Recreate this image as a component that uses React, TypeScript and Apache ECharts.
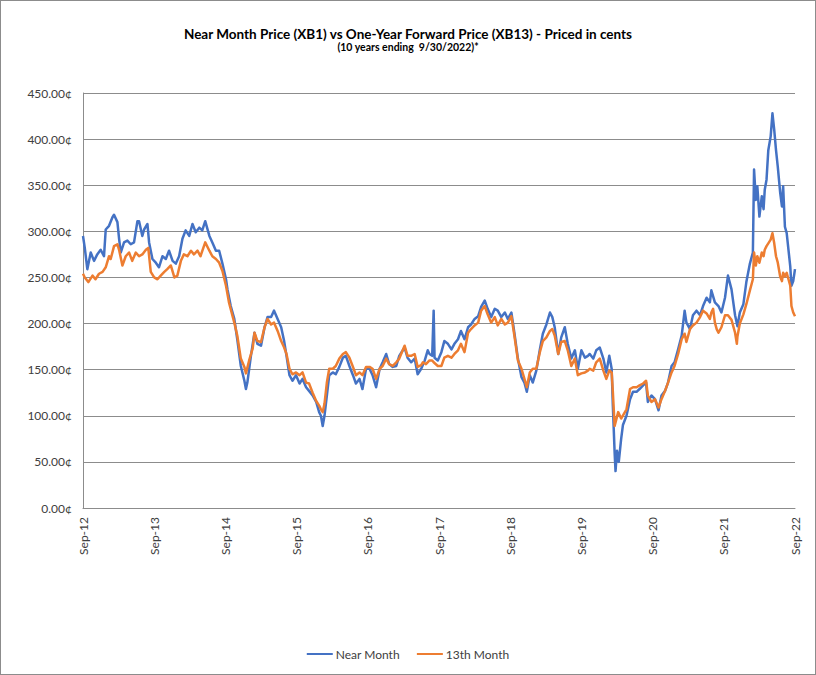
import React, { useEffect, useRef } from "react";
import * as echarts from "echarts";

// x = months since Sep-2012, y = price in cents
const nearMonth: [number, number][] = [
  [0, 295], [0.3, 282], [0.73, 259], [1.3, 277], [1.86, 268], [2.4, 275], [2.98, 280], [3.54, 273],
  [3.83, 302], [4.39, 306], [4.95, 315], [5.23, 318], [5.8, 310], [6.08, 292], [6.36, 277], [6.92, 288],
  [7.48, 290], [8.05, 286], [8.6, 288], [9.17, 311], [9.45, 311], [10.0, 295], [10.3, 302], [10.86, 308],
  [11.14, 288], [11.7, 270], [12.27, 266], [12.8, 261], [13.4, 273], [13.96, 270], [14.5, 279], [15.1, 268],
  [15.65, 265], [16.2, 273], [16.76, 292], [17.3, 301], [17.9, 295], [18.45, 308], [19.0, 299], [19.6, 304],
  [20.1, 301], [20.6, 311], [21.3, 295], [21.8, 288], [22.4, 279], [22.95, 279], [23.5, 265], [24.1, 248],
  [24.35, 237], [24.9, 219], [25.5, 205], [26.0, 183], [26.6, 154], [27.2, 138], [27.46, 129], [27.7, 136],
  [28.3, 165], [28.9, 190], [29.4, 178], [30.0, 176], [30.6, 196], [31.1, 207], [31.7, 207], [32.2, 214],
  [32.8, 205], [33.4, 196], [33.9, 181], [34.3, 165], [34.8, 144], [35.3, 138], [35.9, 144], [36.5, 135],
  [37.0, 140], [37.6, 131], [38.1, 127], [38.7, 122], [39.3, 115], [39.8, 104], [40.1, 100], [40.4, 89],
  [40.7, 100], [41.1, 122], [41.5, 144], [42.1, 147], [42.6, 145], [43.2, 153], [43.8, 163], [44.3, 165],
  [44.9, 154], [45.5, 144], [46.0, 135], [46.6, 140], [47.1, 129], [47.7, 151], [48.3, 151], [48.8, 144],
  [49.4, 131], [50.0, 151], [50.5, 158], [51.1, 167], [51.6, 156], [52.2, 153], [52.8, 154], [53.3, 165],
  [54.2, 174], [54.7, 163], [55.3, 158], [55.9, 162], [56.4, 145], [57.0, 151], [57.6, 160], [58.1, 171],
  [58.4, 167], [58.85, 165], [59.1, 214], [59.25, 163], [59.8, 160], [60.4, 169], [60.9, 181], [61.5, 178],
  [62.1, 172], [62.6, 178], [63.2, 183], [63.7, 192], [64.3, 183], [64.9, 196], [65.4, 199], [66.0, 205],
  [66.6, 208], [67.1, 218], [67.7, 225], [68.2, 216], [68.8, 207], [69.4, 216], [69.9, 214], [70.5, 207],
  [71.1, 212], [71.6, 205], [72.2, 212], [72.7, 190], [73.3, 162], [73.9, 142], [74.4, 136], [74.8, 126],
  [75.3, 144], [75.8, 136], [76.4, 149], [77.0, 172], [77.5, 189], [78.1, 199], [78.7, 212], [79.1, 207],
  [79.5, 196], [80.1, 167], [80.6, 185], [81.2, 196], [81.7, 178], [82.3, 162], [82.9, 171], [83.4, 151],
  [84.0, 171], [84.6, 163], [85.1, 165], [85.4, 167], [86.0, 162], [86.5, 171], [87.1, 174], [87.7, 162],
  [88.2, 147], [88.7, 165], [89.1, 151], [89.3, 111], [89.6, 60], [89.75, 40], [90.0, 62], [90.3, 50],
  [90.7, 75], [91.0, 90], [91.6, 100], [92.2, 118], [92.7, 126], [93.3, 126], [93.8, 129], [94.4, 133],
  [94.9, 136], [95.2, 115], [95.8, 122], [96.4, 118], [97.0, 106], [97.5, 122], [98.1, 127], [98.6, 136],
  [99.2, 154], [99.7, 158], [100.3, 172], [100.9, 187], [101.4, 214], [101.7, 201], [102.3, 194], [102.8, 209],
  [103.4, 214], [104.0, 209], [104.5, 219], [105.1, 228], [105.65, 223], [105.9, 236], [106.5, 223], [107.1, 219],
  [107.6, 212], [108.2, 228], [108.7, 252], [109.3, 237], [109.9, 209], [110.3, 197], [110.7, 212], [111.3, 221],
  [111.8, 245], [112.4, 265], [112.9, 277], [113.1, 367], [113.4, 334], [113.65, 349], [114.0, 316], [114.4, 338],
  [114.7, 324], [114.9, 345], [115.2, 356], [115.5, 388], [115.9, 403], [116.2, 428], [116.5, 410], [116.8, 388],
  [117.1, 370], [117.5, 342], [117.8, 327], [118.0, 349], [118.3, 305], [118.6, 298], [118.9, 280], [119.2, 262],
  [119.4, 241], [119.7, 246], [120, 259],
];

const thirteenthMonth: [number, number][] = [
  [0, 254], [0.3, 250], [0.9, 245], [1.6, 252], [2.1, 248], [2.7, 254], [3.3, 256], [3.83, 261],
  [4.39, 273], [4.67, 270], [5.23, 284], [5.8, 286], [6.08, 280], [6.64, 263], [7.2, 273], [7.76, 277],
  [8.3, 268], [8.9, 277], [9.45, 273], [10.0, 275], [10.6, 280], [11.0, 282], [11.42, 256], [12.0, 250],
  [12.55, 248], [13.1, 252], [13.7, 256], [14.2, 259], [14.8, 263], [15.4, 250], [15.9, 252], [16.5, 268],
  [17.0, 275], [17.6, 273], [18.2, 279], [18.7, 275], [19.3, 279], [19.8, 273], [20.6, 288], [21.3, 279],
  [21.8, 273], [22.4, 270], [22.95, 266], [23.5, 257], [24.1, 241], [24.6, 223], [25.5, 201], [26.0, 187],
  [26.6, 162], [27.2, 153], [27.46, 146], [28.0, 160], [28.6, 173], [28.9, 190], [29.4, 181], [30.0, 180],
  [30.6, 196], [31.1, 205], [31.7, 199], [32.2, 201], [32.8, 192], [33.4, 181], [33.9, 174], [34.3, 167],
  [34.8, 151], [35.3, 145], [35.9, 147], [36.5, 144], [37.0, 147], [37.6, 136], [38.1, 135], [38.7, 125],
  [39.3, 116], [39.8, 111], [40.1, 107], [40.4, 104], [40.7, 113], [41.1, 136], [41.5, 151], [42.1, 151],
  [42.6, 154], [43.2, 162], [43.8, 167], [44.3, 169], [44.9, 163], [45.5, 153], [46.0, 144], [46.6, 147],
  [47.1, 144], [47.7, 153], [48.3, 153], [48.8, 151], [49.4, 140], [50.0, 151], [50.5, 154], [51.1, 162],
  [51.6, 156], [52.2, 154], [52.8, 158], [53.3, 162], [54.2, 176], [54.7, 165], [55.3, 165], [55.9, 167],
  [56.4, 153], [57.0, 155], [57.3, 158], [57.8, 156], [58.4, 160], [58.85, 160], [59.1, 158], [59.8, 154],
  [60.4, 154], [60.9, 163], [61.5, 165], [62.1, 163], [62.6, 167], [63.2, 171], [63.7, 178], [64.3, 169],
  [64.9, 190], [65.4, 194], [66.0, 198], [66.6, 201], [67.1, 214], [67.7, 219], [68.2, 210], [68.8, 201],
  [69.4, 207], [69.9, 198], [70.5, 205], [71.1, 199], [71.6, 201], [72.2, 208], [72.7, 187], [73.3, 160],
  [73.9, 151], [74.4, 140], [74.8, 131], [75.3, 147], [75.8, 151], [76.4, 151], [77.0, 169], [77.5, 181],
  [78.1, 185], [78.7, 192], [79.1, 194], [79.5, 187], [80.1, 167], [80.6, 180], [81.2, 181], [81.7, 171],
  [82.3, 154], [82.9, 162], [83.4, 144], [84.0, 146], [84.6, 147], [85.1, 149], [85.4, 151], [86.0, 149],
  [86.5, 158], [87.1, 162], [87.7, 149], [88.2, 140], [88.7, 149], [89.1, 147], [89.3, 126], [89.6, 89],
  [90.2, 104], [90.7, 97], [91.6, 107], [92.2, 129], [92.7, 131], [93.3, 131], [93.8, 133], [94.4, 135],
  [94.9, 138], [95.2, 122], [95.8, 115], [96.4, 118], [97.0, 109], [97.5, 118], [98.1, 127], [98.6, 136],
  [99.2, 147], [99.7, 154], [100.3, 167], [100.9, 183], [101.4, 189], [101.7, 180], [102.3, 194], [102.8, 198],
  [103.4, 201], [104.0, 207], [104.5, 214], [105.1, 211], [105.65, 205], [105.9, 212], [106.2, 216], [106.5, 201],
  [106.8, 194], [107.1, 190], [107.6, 196], [108.2, 209], [108.7, 209], [109.3, 204], [109.9, 190], [110.2, 178],
  [110.3, 186], [110.7, 200], [111.3, 210], [111.8, 221], [112.4, 236], [112.9, 248], [113.1, 277], [113.4, 263],
  [113.65, 273], [114.0, 266], [114.4, 277], [114.7, 273], [114.9, 280], [115.2, 284], [115.5, 287], [115.9, 291],
  [116.2, 298], [116.5, 287], [116.8, 273], [117.1, 266], [117.5, 251], [117.8, 246], [118.0, 255], [118.3, 251],
  [118.6, 255], [118.9, 248], [119.2, 241], [119.4, 219], [119.7, 212], [120, 208],
];

const seriesNames = ["Near Month", "13th Month"];
const seriesColors = ["#4472C4", "#ED7D31"];
const titleText = "Near Month Price (XB1) vs One-Year Forward Price (XB13) - Priced in cents";
const subtitleText = "(10 years ending  9/30/2022)*";
const startYear = 12;

const FONT = "Lato, 'Open Sans', sans-serif";

export default function App() {
  const ref = useRef<HTMLDivElement>(null);
  useEffect(() => {
    if (!ref.current) return;
    const chart = echarts.init(ref.current, null, { renderer: "svg" });
    chart.setOption({
      animation: false,
      backgroundColor: "#ffffff",
      title: {
        text: titleText,
        subtext: subtitleText,
        left: "center",
        top: 21,
        itemGap: 0,
        textStyle: { fontFamily: FONT, fontSize: 13.5, fontWeight: "bold", color: "#000" },
        subtextStyle: { fontFamily: FONT, fontSize: 10.5, fontWeight: "bold", color: "#000" },
      },
      legend: {
        bottom: 9,
        left: "center",
        icon: "rect",
        itemWidth: 26,
        itemHeight: 2,
        itemGap: 17,
        textStyle: { fontFamily: FONT, fontSize: 12, color: "#404040", padding: [0, 0, 0, -2] },
        data: seriesNames,
      },
      grid: { left: 82, right: 20, top: 92, bottom: 166, containLabel: false },
      xAxis: {
        type: "value",
        min: 0,
        max: 120,
        interval: 12,
        axisLine: { show: true, lineStyle: { color: "#8c8c8c", width: 1 } },
        axisTick: { show: false },
        splitLine: { show: false },
        axisLabel: {
          rotate: 90,
          margin: 9,
          fontFamily: FONT,
          fontSize: 12,
          color: "#404040",
          formatter: (v: number) => `Sep-${startYear + Math.round(v / 12)}`,
        },
      },
      yAxis: {
        type: "value",
        min: 0,
        max: 450,
        interval: 50,
        axisLine: { show: true, lineStyle: { color: "#8c8c8c", width: 1 } },
        axisTick: { show: false },
        splitLine: { show: true, lineStyle: { color: "#8c8c8c", width: 1 } },
        axisLabel: {
          margin: 11,
          fontFamily: FONT,
          fontSize: 12,
          color: "#404040",
          formatter: (v: number) => `${v.toFixed(2)}¢`,
        },
      },
      series: [
        {
          name: seriesNames[0],
          type: "line",
          data: nearMonth,
          showSymbol: false,
          symbol: "none",
          lineStyle: { color: seriesColors[0], width: 2.5, join: "round" },
          itemStyle: { color: seriesColors[0] },
          z: 2,
        },
        {
          name: seriesNames[1],
          type: "line",
          data: thirteenthMonth,
          showSymbol: false,
          symbol: "none",
          lineStyle: { color: seriesColors[1], width: 2.5, join: "round" },
          itemStyle: { color: seriesColors[1] },
          z: 3,
        },
      ],
    });
    return () => chart.dispose();
  }, []);
  return (
    <div
      style={{
        position: "fixed",
        left: 0,
        top: 0,
        width: 816,
        height: 675,
        boxSizing: "border-box",
        border: "1px solid #8c8c8c",
        background: "#fff",
      }}
    >
      <div ref={ref} style={{ width: 814, height: 673 }} />
    </div>
  );
}
